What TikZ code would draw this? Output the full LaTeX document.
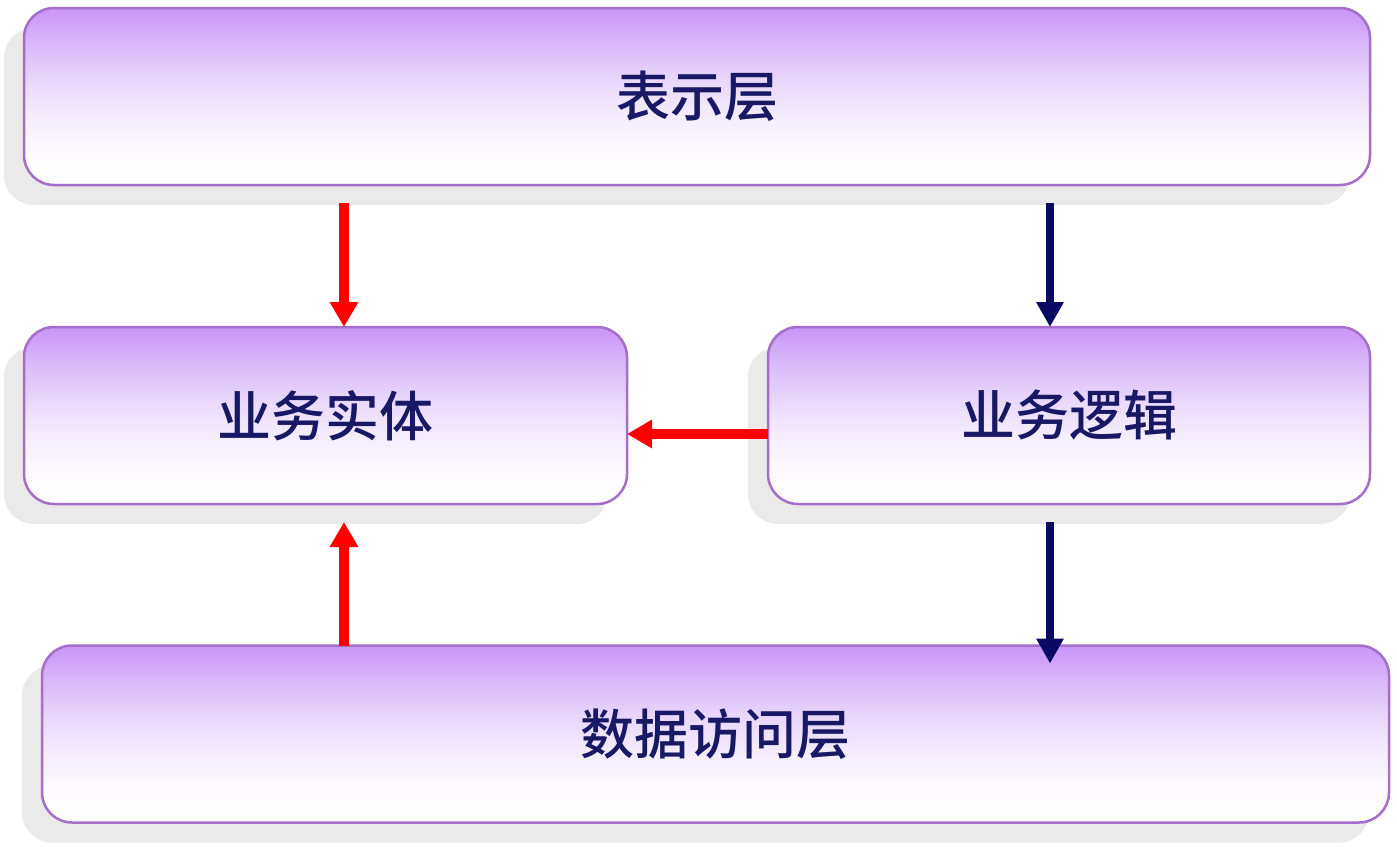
\documentclass[tikz,border=0pt]{standalone}
\usepackage{fontspec}
\newfontfamily\cjk{Noto Sans CJK SC Medium}
\usetikzlibrary{arrows.meta,shadows}
\definecolor{lavtop}{RGB}{201,148,248}
\definecolor{lavhi}{RGB}{216,184,250}
\definecolor{lavmid}{RGB}{232,214,252}
\definecolor{lavlow}{RGB}{244,236,253}
\definecolor{lavbot}{RGB}{252,250,255}
\definecolor{boxline}{RGB}{165,110,200}
\definecolor{navytext}{RGB}{24,24,100}
\definecolor{navyarrow}{RGB}{10,10,100}
\definecolor{shadowgrey}{RGB}{234,234,234}
\pgfdeclareverticalshading{boxshade}{100bp}{color(0bp)=(white); color(25bp)=(white); color(35bp)=(lavbot); color(45bp)=(lavlow); color(55bp)=(lavmid); color(65bp)=(lavhi); color(75bp)=(lavtop); color(100bp)=(lavtop)}
\begin{document}
\begin{tikzpicture}[x=1pt,y=-1pt,
  layerbox/.style={draw=boxline, line width=2.5pt, rounded corners=30pt,
    shading=boxshade, minimum height=177pt, inner sep=0pt, outer sep=0pt,
    font=\cjk\fontsize{54pt}{64pt}\selectfont, text=navytext,
    drop shadow={shadow xshift=-20pt, shadow yshift=-20pt, fill=shadowgrey, opacity=1}},
  redarrow/.style={draw=red, line width=10pt, -{Triangle[length=25pt,width=27pt]}},
  navyarrowst/.style={draw=navyarrow, line width=8pt, -{Triangle[length=25pt,width=26pt]}}
]
\useasboundingbox (0,0) rectangle (1397,846);
\node[layerbox, minimum width=1346pt] (top) at (697,96.5) {表示层};
\node[layerbox, minimum width=603pt] (be) at (325.5,415.5) {业务实体};
\node[layerbox, minimum width=602pt] (bl) at (1069,415.5) {业务逻辑};
\node[layerbox, minimum width=1347pt] (da) at (715.5,734) {数据访问层};
% arrows
\draw[redarrow, shorten <=18pt] ([xshift=18.5pt]be.north |- top.south) -- ([xshift=18.5pt]be.north);
\draw[navyarrowst, shorten <=18pt] ([xshift=-19pt]bl.north |- top.south) -- ([xshift=-19pt]bl.north);
\draw[redarrow] ([yshift=-18.5pt]bl.west) -- ([yshift=-18.5pt]bl.west -| be.east);
\draw[redarrow, shorten >=18pt] ([xshift=18.5pt]be.south |- da.north) -- ([xshift=18.5pt]be.south);
\draw[navyarrowst, shorten <=18pt, shorten >=-18pt] ([xshift=-19pt]bl.south) -- ([xshift=-19pt]bl.south |- da.north);
\end{tikzpicture}
\end{document}
